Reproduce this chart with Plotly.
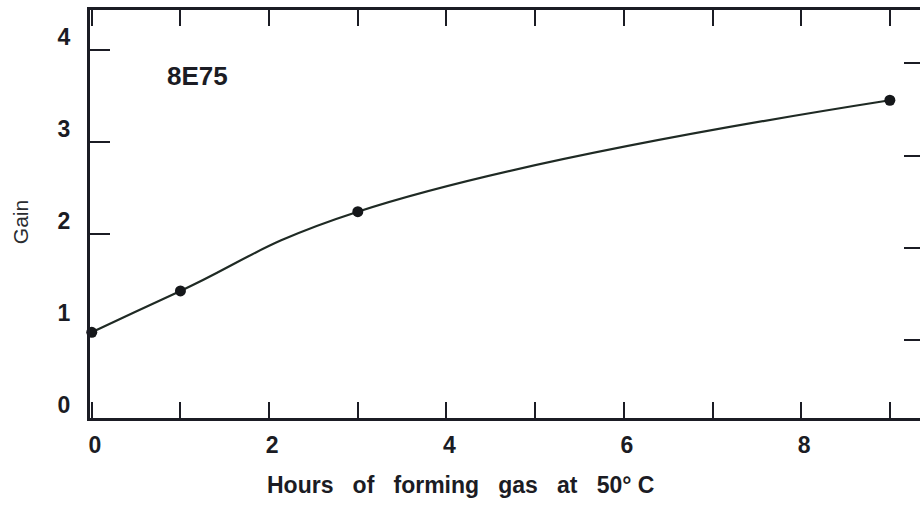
import plotly.graph_objects as go

# Data
hours = [0, 1, 3, 9]
gain = [0.93, 1.38, 2.24, 3.45]

x_label_vals = [0, 2, 4, 6, 8]
y_label_vals = [0, 1, 2, 3, 4]
y_left_ticks = [2, 3, 4]
y_right_ticks = [1, 2, 3, 4]

sample_label = "8E75"
S = " \u00a0\u00a0"
x_title = "Hours" + S + "of" + S + "forming" + S + "gas" + S + "at" + S + "50\u00b0\u00a0C"
y_title = "Gain"

INK = "#1b1c24"
FONT = "Liberation Sans, Arial, Helvetica, sans-serif"

fig = go.Figure()
fig.add_trace(go.Scatter(
    x=hours, y=gain, mode="lines+markers",
    line=dict(color="#1f2a24", width=2.2, shape="spline", smoothing=1.3),
    marker=dict(color="#15171a", size=11),
    cliponaxis=False, showlegend=False, hoverinfo="skip",
))
# empty traces so the overlay axes are drawn
fig.add_trace(go.Scatter(x=[], y=[], yaxis="y2", showlegend=False))
fig.add_trace(go.Scatter(x=[], y=[], yaxis="y3", showlegend=False))

fig.update_layout(
    width=920, height=507,
    margin=dict(l=90, r=0, t=10, b=89),
    paper_bgcolor="white", plot_bgcolor="white",
    showlegend=False,
    xaxis=dict(
        range=[-0.02, 9.34], showgrid=False, zeroline=False, automargin=False,
        showline=True, linecolor=INK, linewidth=3, mirror="ticks",
        tickmode="array", tickvals=x_label_vals,
        ticks="inside", ticklen=16, tickwidth=2, tickcolor=INK,
        minor=dict(dtick=1, tick0=0, ticks="inside", ticklen=16, tickwidth=2, tickcolor=INK),
        tickfont=dict(family=FONT, size=23, color=INK, weight=700),
        ticklabelstandoff=4, ticklabelshift=3,
    ),
    yaxis=dict(
        range=[0, 4.43], showgrid=False, zeroline=False, automargin=False,
        showline=True, linecolor=INK, linewidth=3,
        tickmode="array", tickvals=y_label_vals, ticks="",
        tickfont=dict(family=FONT, size=23, color=INK, weight=700),
        ticklabelstandoff=12, ticklabelshift=-13,
    ),
    yaxis2=dict(
        overlaying="y", side="left", range=[0, 4.43], automargin=False,
        showgrid=False, zeroline=False, showline=False,
        tickmode="array", tickvals=y_left_ticks, showticklabels=False,
        ticks="inside", ticklen=20, tickwidth=2, tickcolor=INK,
    ),
    yaxis3=dict(
        overlaying="y", side="right", range=[0.15, 4.58], automargin=False,
        showgrid=False, zeroline=False, showline=False,
        tickmode="array", tickvals=y_right_ticks, showticklabels=False,
        ticks="inside", ticklen=16, tickwidth=2, tickcolor=INK,
    ),
    annotations=[
        dict(text=sample_label, xref="paper", yref="paper", x=0.0904, y=0.838,
             xanchor="left", yanchor="middle", showarrow=False,
             font=dict(family=FONT, size=26, color=INK, weight=700)),
        dict(text=x_title, xref="paper", yref="paper", x=0.4458, y=-0.164,
             xanchor="center", yanchor="middle", showarrow=False,
             font=dict(family=FONT, size=23, color=INK, weight=700)),
        dict(text=y_title, xref="paper", yref="paper", x=-0.0843, y=0.48,
             xanchor="center", yanchor="middle", showarrow=False, textangle=-90,
             font=dict(family=FONT, size=21, color="#2a2c30")),
    ],
)

fig.write_html(
    "out.html",
    config={"displayModeBar": False},
    post_script="document.body.style.margin='0';document.body.style.overflow='hidden';",
)
